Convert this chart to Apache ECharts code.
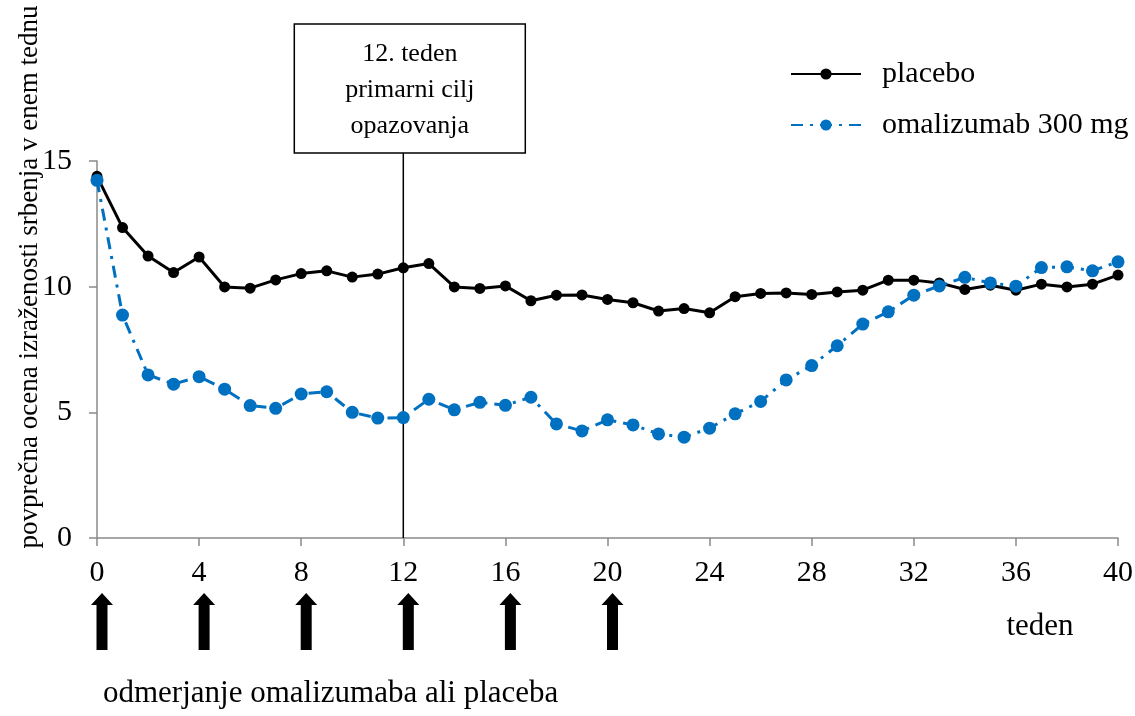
<!DOCTYPE html>
<html>
<head>
<meta charset="utf-8">
<script src="https://cdn.jsdelivr.net/npm/echarts@6/dist/echarts.min.js"></script>
<style>
  html, body { margin: 0; padding: 0; background: #fff; }
  #chart { width: 1135px; height: 716px; }
</style>
</head>
<body>
<div id="chart"></div>
<script>
// weeks 0..40
const weeks = [0, 1, 2, 3, 4, 5, 6, 7, 8, 9, 10, 11, 12, 13, 14, 15, 16, 17, 18, 19, 20,
  21, 22, 23, 24, 25, 26, 27, 28, 29, 30, 31, 32, 33, 34, 35, 36, 37, 38, 39, 40]

const placebo = [14.39, 12.35, 11.22, 10.56, 11.18, 9.99, 9.94, 10.27, 10.52, 10.63,
  10.38, 10.50, 10.75, 10.92, 9.99, 9.93, 10.03, 9.44, 9.66, 9.67,
  9.49, 9.36, 9.03, 9.13, 8.96, 9.60, 9.73, 9.75, 9.69, 9.79,
  9.86, 10.26, 10.26, 10.15, 9.89, 10.06, 9.86, 10.10, 9.99, 10.10, 10.46]

const omalizumab = [14.23, 8.87, 6.49, 6.12, 6.42, 5.92, 5.27, 5.16, 5.73, 5.82,
  5.00, 4.77, 4.79, 5.52, 5.10, 5.40, 5.28, 5.60, 4.54, 4.26,
  4.70, 4.50, 4.14, 4.01, 4.37, 4.94, 5.43, 6.29, 6.86, 7.65,
  8.51, 9.00, 9.66, 10.03, 10.37, 10.15, 10.02, 10.76, 10.79, 10.63, 10.99]

const dosingWeeks = [0, 4, 8, 12, 16, 20]
const primaryWeek = 12

const seriesNames = ["placebo", "omalizumab 300 mg"]
const yTitle = "povprečna ocena izraženosti srbenja v enem tednu"
const xTitle = "teden"
const dosingText = "odmerjanje omalizumaba ali placeba"
const boxText = "12. teden\nprimarni cilj\nopazovanja"

const FONT = "'Liberation Serif', 'Times New Roman', serif"
const AXIS_GREY = "#8a8a8a"

const chart = echarts.init(document.getElementById("chart"), null, { renderer: "canvas" })

const option = {
  animation: false,
  backgroundColor: "#fff",
  grid: { left: 97, right: 17, top: 161, bottom: 178, outerBoundsMode: "none" },
  legend: {
    orient: "vertical",
    left: 790,
    top: 59,
    itemWidth: 70,
    itemHeight: 14,
    itemGap: 21,
    padding: 0,
    data: seriesNames,
    textStyle: { fontFamily: FONT, fontSize: 30, color: "#000", padding: [0, 0, 0, 16] },
  },
  xAxis: {
    type: "value",
    min: 0,
    max: 40,
    interval: 4,
    axisLine: { lineStyle: { color: AXIS_GREY, width: 1.5 } },
    axisTick: { length: 8, lineStyle: { color: AXIS_GREY, width: 1.5 } },
    axisLabel: { margin: 20, fontFamily: FONT, fontSize: 30, color: "#000" },
    splitLine: { show: false },
  },
  yAxis: {
    type: "value",
    min: 0,
    max: 15,
    interval: 5,
    axisLine: { show: true, lineStyle: { color: AXIS_GREY, width: 1.5 } },
    axisTick: { show: true, length: 8, lineStyle: { color: AXIS_GREY, width: 1.5 } },
    axisLabel: { margin: 25, fontFamily: FONT, fontSize: 30, color: "#000" },
    splitLine: { show: false },
  },
  series: [
    {
      name: seriesNames[0],
      type: "line",
      data: weeks.map((w, i) => [w, placebo[i]]),
      symbol: "circle",
      symbolSize: 11,
      lineStyle: { color: "#000", width: 3 },
      itemStyle: { color: "#000" },
      z: 3,
    },
    {
      name: seriesNames[1],
      type: "line",
      data: weeks.map((w, i) => [w, omalizumab[i]]),
      symbol: "circle",
      symbolSize: 13,
      lineStyle: { color: "#0070C0", width: 3, type: [12, 7, 3, 7] },
      itemStyle: { color: "#0070C0" },
      z: 4,
    },
  ],
}

chart.setOption(option)

// annotations positioned through the axes
const [lineX, zeroY] = chart.convertToPixel({ gridIndex: 0 }, [primaryWeek, 0])
const boxTop = 24
const boxBottom = 153
const boxLeft = lineX - 109
const boxWidth = 231

const graphics = [
  {
    type: "line",
    shape: { x1: lineX, y1: zeroY, x2: lineX, y2: boxBottom },
    style: { stroke: "#000", lineWidth: 1.5 },
    z: 1,
  },
  {
    type: "rect",
    shape: { x: boxLeft, y: boxTop, width: boxWidth, height: boxBottom - boxTop },
    style: { fill: "#fff", stroke: "#000", lineWidth: 1.5 },
    z: 5,
  },
  {
    type: "text",
    x: boxLeft + boxWidth / 2,
    y: 90,
    style: {
      text: boxText,
      fontFamily: FONT,
      fontSize: 26,
      lineHeight: 36,
      fill: "#000",
      align: "center",
      verticalAlign: "middle",
    },
    z: 6,
  },
  {
    type: "text",
    x: 30,
    y: 277,
    rotation: Math.PI / 2,
    style: {
      text: yTitle,
      fontFamily: FONT,
      fontSize: 27,
      fill: "#000",
      align: "center",
      verticalAlign: "middle",
    },
  },
  {
    type: "text",
    x: 1040,
    y: 627,
    style: {
      text: xTitle,
      fontFamily: FONT,
      fontSize: 31,
      fill: "#000",
      align: "center",
      verticalAlign: "middle",
    },
  },
  {
    type: "text",
    x: 103,
    y: 694,
    style: {
      text: dosingText,
      fontFamily: FONT,
      fontSize: 31,
      fill: "#000",
      align: "left",
      verticalAlign: "middle",
    },
  },
]

// dosing arrows under the x axis
dosingWeeks.forEach((w) => {
  const cx = chart.convertToPixel({ xAxisIndex: 0 }, w) + 5
  const tip = 593
  graphics.push({
    type: "polygon",
    shape: {
      points: [
        [cx, tip],
        [cx + 11, tip + 12],
        [cx + 5.5, tip + 12],
        [cx + 5.5, tip + 57],
        [cx - 5.5, tip + 57],
        [cx - 5.5, tip + 12],
        [cx - 11, tip + 12],
      ],
    },
    style: { fill: "#000" },
  })
})

chart.setOption({ graphic: graphics })
</script>
</body>
</html>
